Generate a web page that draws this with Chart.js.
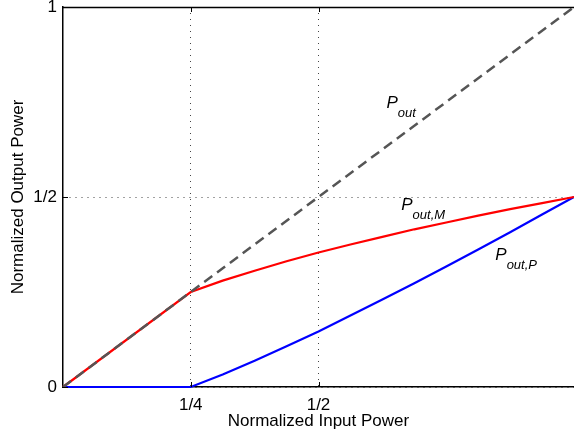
<!DOCTYPE html>
<html>
<head>
<meta charset="utf-8">
<script src="https://cdn.jsdelivr.net/npm/chart.js@4/dist/chart.umd.min.js"></script>
<style>
  html, body { margin: 0; padding: 0; background: #fff; }
  #wrap { width: 574px; height: 436px; }
</style>
</head>
<body>
<div id="wrap"><canvas id="myChart" width="574" height="436"></canvas></div>
<script>
// values
let inputPower = [0, 0.25, 0.3125, 0.375, 0.4375, 0.5, 0.5625, 0.625, 0.6875, 0.75, 0.8125, 0.875, 0.9375, 1]
let outMain    = [0, 0.25, 0.28, 0.306, 0.331, 0.354, 0.375, 0.395, 0.415, 0.433, 0.451, 0.468, 0.484, 0.5]
let outPeak    = [0, 0, 0.033, 0.069, 0.107, 0.146, 0.188, 0.23, 0.273, 0.317, 0.362, 0.407, 0.454, 0.5]
let totalX = [0, 1]
let totalY = [0, 1]

let xTickValues = [0.25, 0.5]
let xTickLabels = ['1/4', '1/2']
let yTickValues = [0, 0.5, 1]
let yTickLabels = ['0', '1/2', '1']

function pts(xs, ys){
  return xs.map(function(x, i){ return {x: x, y: ys[i]} })
}

// curve names, with data position of the text
let curveNames = [
  {main: 'P', sub: 'out',   x: 0.633, y: 0.734},
  {main: 'P', sub: 'out,M', x: 0.662, y: 0.466},
  {main: 'P', sub: 'out,P', x: 0.846, y: 0.334},
]

let frame = {
  id: 'frame',
  afterDatasetsDraw: function(chart){
    let c = chart.ctx
    let a = chart.chartArea
    let xs = chart.scales.x
    let ys = chart.scales.y
    c.save()
    c.strokeStyle = '#000'
    c.lineWidth = 1.5
    c.beginPath()
    c.moveTo(a.left, a.top + 0.5)
    c.lineTo(a.right, a.top + 0.5)
    c.stroke()
    c.lineWidth = 1
    xTickValues.forEach(function(v){
      let px = Math.round(xs.getPixelForValue(v)) + 0.5
      c.beginPath()
      c.moveTo(px, a.bottom); c.lineTo(px, a.bottom - 5)
      c.moveTo(px, a.top); c.lineTo(px, a.top + 5)
      c.stroke()
    })
    yTickValues.forEach(function(v){
      let py = Math.round(ys.getPixelForValue(v)) + 0.5
      c.beginPath()
      c.moveTo(a.left, py); c.lineTo(a.left + 5, py)
      c.stroke()
    })
    c.fillStyle = '#000'
    c.textBaseline = 'alphabetic'
    curveNames.forEach(function(n){
      let px = xs.getPixelForValue(n.x)
      let py = ys.getPixelForValue(n.y)
      c.font = 'italic 17px "Liberation Sans", Arial, sans-serif'
      c.fillText(n.main, px, py)
      let w = c.measureText(n.main).width
      c.font = 'italic 13px "Liberation Sans", Arial, sans-serif'
      c.fillText(n.sub, px + w, py + 9)
    })
    c.restore()
  }
}

let ctx = document.getElementById('myChart')
let dados = {
  datasets: [{
    label: 'Pout',
    data: pts(totalX, totalY),
    borderColor: '#555555',
    borderWidth: 2.5,
    borderDash: [10, 6],
    pointRadius: 0,
    showLine: true,
  }, {
    label: 'Pout,M',
    data: pts(inputPower, outMain),
    borderColor: 'rgb(255, 0, 0)',
    borderWidth: 2.2,
    pointRadius: 0,
    showLine: true,
  }, {
    label: 'Pout,P',
    data: pts(inputPower, outPeak),
    borderColor: 'rgb(0, 0, 255)',
    borderWidth: 2.2,
    pointRadius: 0,
    showLine: true,
  }, ],
}

let tickFont = {family: '"Liberation Sans", Arial, sans-serif', size: 17}
let titleFont = {family: '"Liberation Sans", Arial, sans-serif', size: 17}

let opcoes = {
  responsive: false,
  animation: false,
  clip: false,
  layout: {padding: {top: 7, right: 0, left: 0, bottom: 0}},
  plugins: {legend: {display: false}, tooltip: {enabled: false}},
  scales: {
    x: {
      type: 'linear', min: 0, max: 1,
      afterBuildTicks: function(s){ s.ticks = xTickValues.map(function(v){ return {value: v} }) },
      afterFit: function(s){ s.height = 49; s.paddingLeft = 0; s.paddingRight = 0 },
      ticks: {
        color: '#000', font: tickFont, padding: 8, maxRotation: 0,
        callback: function(v){ return xTickLabels[xTickValues.indexOf(v)] },
      },
      grid: {color: '#444', lineWidth: 1, drawTicks: false},
      border: {color: '#000', width: 1.5, dash: [1, 5]},
      title: {display: true, text: 'Normalized Input Power', color: '#000', font: titleFont, padding: {top: 0, bottom: 4}},
    },
    y: {
      type: 'linear', min: 0, max: 1,
      afterBuildTicks: function(s){ s.ticks = yTickValues.map(function(v){ return {value: v} }) },
      afterFit: function(s){ s.width = 63; s.paddingTop = 0; s.paddingBottom = 0 },
      ticks: {
        color: '#000', font: tickFont, padding: 6,
        callback: function(v){ return yTickLabels[yTickValues.indexOf(v)] },
      },
      grid: {color: '#444', lineWidth: 1, drawTicks: false},
      border: {color: '#000', width: 1.5, dash: [1, 5]},
      title: {display: true, text: 'Normalized Output Power', color: '#000', font: titleFont, padding: {top: 8, bottom: 0}},
    },
  },
}

let meuGrafico = new Chart(ctx, {
  type: 'scatter',
  data: dados,
  options: opcoes,
  plugins: [frame],
})
</script>
</body>
</html>
